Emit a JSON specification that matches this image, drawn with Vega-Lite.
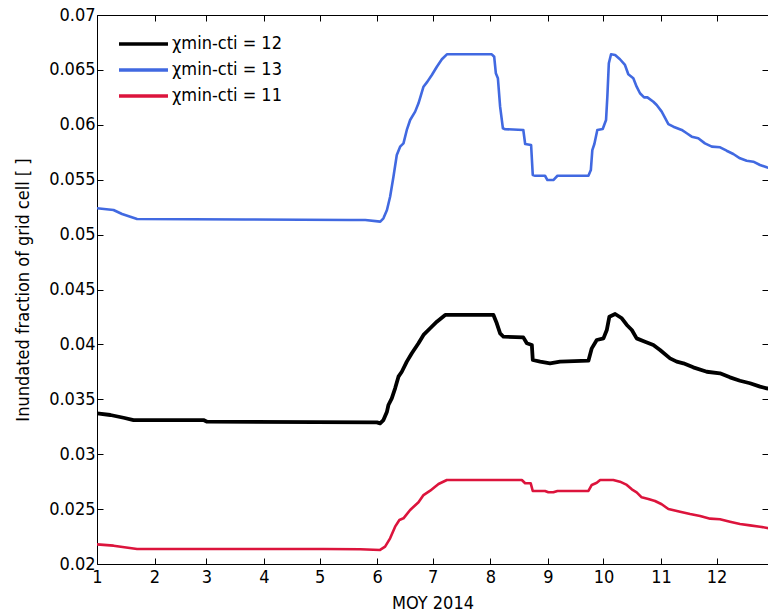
{
  "$schema": "https://vega.github.io/schema/vega-lite/v6.json",
  "autosize": "none",
  "width": 671,
  "height": 549,
  "padding": {"left": 97, "top": 15, "right": 0, "bottom": 51},
  "background": "white",
  "config": {
    "view": {"stroke": null},
    "font": "DejaVu Sans Condensed, Liberation Sans, sans-serif",
    "axis": {"grid": false, "domainColor": "black", "tickColor": "black", "labelColor": "black", "titleColor": "black", "labelFont": "DejaVu Sans Condensed, Liberation Sans, sans-serif", "titleFont": "DejaVu Sans Condensed, Liberation Sans, sans-serif", "labelFontSize": 18, "titleFontSize": 18, "titleFontWeight": "normal", "tickSize": -6, "domainWidth": 1, "tickWidth": 1}
  },
  "datasets": {
    "series": [
      {"s": "13", "d": 0, "v": 0.0524},
      {"s": "13", "d": 8.9, "v": 0.05224},
      {"s": "13", "d": 13.5, "v": 0.05188},
      {"s": "13", "d": 21.6, "v": 0.05142},
      {"s": "13", "d": 80, "v": 0.05138},
      {"s": "13", "d": 136.5, "v": 0.05133},
      {"s": "13", "d": 144.6, "v": 0.05133},
      {"s": "13", "d": 152.7, "v": 0.05118},
      {"s": "13", "d": 154.4, "v": 0.05148},
      {"s": "13", "d": 156.3, "v": 0.05224},
      {"s": "13", "d": 158.0, "v": 0.05345},
      {"s": "13", "d": 159.8, "v": 0.05527},
      {"s": "13", "d": 161.6, "v": 0.05725},
      {"s": "13", "d": 163.4, "v": 0.05801},
      {"s": "13", "d": 165.2, "v": 0.05831},
      {"s": "13", "d": 167.0, "v": 0.05953},
      {"s": "13", "d": 168.8, "v": 0.06044},
      {"s": "13", "d": 171.5, "v": 0.0612},
      {"s": "13", "d": 173.3, "v": 0.06196},
      {"s": "13", "d": 176.0, "v": 0.06347},
      {"s": "13", "d": 178.1, "v": 0.06393},
      {"s": "13", "d": 180.5, "v": 0.06454},
      {"s": "13", "d": 183.2, "v": 0.06529},
      {"s": "13", "d": 185.9, "v": 0.06597},
      {"s": "13", "d": 188.6, "v": 0.06642},
      {"s": "13", "d": 212.8, "v": 0.06642},
      {"s": "13", "d": 214.1, "v": 0.0662},
      {"s": "13", "d": 215.0, "v": 0.06469},
      {"s": "13", "d": 216.1, "v": 0.06424},
      {"s": "13", "d": 217.3, "v": 0.06165},
      {"s": "13", "d": 218.8, "v": 0.05968},
      {"s": "13", "d": 220.0, "v": 0.0596},
      {"s": "13", "d": 229.8, "v": 0.05953},
      {"s": "13", "d": 230.8, "v": 0.05825},
      {"s": "13", "d": 234.0, "v": 0.05816},
      {"s": "13", "d": 234.9, "v": 0.05543},
      {"s": "13", "d": 236.2, "v": 0.05536},
      {"s": "13", "d": 241.5, "v": 0.05536},
      {"s": "13", "d": 242.8, "v": 0.05497},
      {"s": "13", "d": 246.0, "v": 0.05497},
      {"s": "13", "d": 248.2, "v": 0.05536},
      {"s": "13", "d": 264.9, "v": 0.05536},
      {"s": "13", "d": 266.2, "v": 0.05588},
      {"s": "13", "d": 267.0, "v": 0.0577},
      {"s": "13", "d": 268.1, "v": 0.05825},
      {"s": "13", "d": 269.7, "v": 0.05953},
      {"s": "13", "d": 272.6, "v": 0.05962},
      {"s": "13", "d": 274.4, "v": 0.06044},
      {"s": "13", "d": 275.1, "v": 0.06256},
      {"s": "13", "d": 275.9, "v": 0.0656},
      {"s": "13", "d": 277.1, "v": 0.06642},
      {"s": "13", "d": 279.3, "v": 0.06636},
      {"s": "13", "d": 281.9, "v": 0.06597},
      {"s": "13", "d": 284.6, "v": 0.06545},
      {"s": "13", "d": 286.4, "v": 0.0646},
      {"s": "13", "d": 289.1, "v": 0.06424},
      {"s": "13", "d": 290.9, "v": 0.06347},
      {"s": "13", "d": 292.7, "v": 0.06287},
      {"s": "13", "d": 294.9, "v": 0.0625},
      {"s": "13", "d": 296.7, "v": 0.0625},
      {"s": "13", "d": 299.9, "v": 0.0621},
      {"s": "13", "d": 301.7, "v": 0.0618},
      {"s": "13", "d": 304.4, "v": 0.0612},
      {"s": "13", "d": 308.0, "v": 0.06007},
      {"s": "13", "d": 310.7, "v": 0.05983},
      {"s": "13", "d": 315.2, "v": 0.05953},
      {"s": "13", "d": 317.9, "v": 0.05923},
      {"s": "13", "d": 320.6, "v": 0.05892},
      {"s": "13", "d": 324.1, "v": 0.05877},
      {"s": "13", "d": 327.7, "v": 0.05831},
      {"s": "13", "d": 331.4, "v": 0.05801},
      {"s": "13", "d": 335.9, "v": 0.05795},
      {"s": "13", "d": 339.4, "v": 0.05764},
      {"s": "13", "d": 343.0, "v": 0.05734},
      {"s": "13", "d": 346.6, "v": 0.05695},
      {"s": "13", "d": 350.2, "v": 0.05673},
      {"s": "13", "d": 353.8, "v": 0.05664},
      {"s": "13", "d": 357.4, "v": 0.05634},
      {"s": "13", "d": 361.0, "v": 0.05613},
      {"s": "13", "d": 364.0, "v": 0.05598},
      {"s": "12", "d": 0, "v": 0.03372},
      {"s": "12", "d": 7.2, "v": 0.03357},
      {"s": "12", "d": 14.3, "v": 0.03332},
      {"s": "12", "d": 19.7, "v": 0.03311},
      {"s": "12", "d": 57.4, "v": 0.03311},
      {"s": "12", "d": 59.3, "v": 0.03296},
      {"s": "12", "d": 150.9, "v": 0.0329},
      {"s": "12", "d": 152.6, "v": 0.03281},
      {"s": "12", "d": 154.4, "v": 0.03311},
      {"s": "12", "d": 156.3, "v": 0.03387},
      {"s": "12", "d": 157.1, "v": 0.03448},
      {"s": "12", "d": 158.9, "v": 0.03509},
      {"s": "12", "d": 160.7, "v": 0.036},
      {"s": "12", "d": 162.5, "v": 0.03706},
      {"s": "12", "d": 164.3, "v": 0.03751},
      {"s": "12", "d": 167.0, "v": 0.03843},
      {"s": "12", "d": 169.7, "v": 0.03919},
      {"s": "12", "d": 173.3, "v": 0.0401},
      {"s": "12", "d": 176.0, "v": 0.04086},
      {"s": "12", "d": 179.6, "v": 0.04147},
      {"s": "12", "d": 183.2, "v": 0.04207},
      {"s": "12", "d": 187.7, "v": 0.04268},
      {"s": "12", "d": 213.7, "v": 0.04268},
      {"s": "12", "d": 215.5, "v": 0.04192},
      {"s": "12", "d": 217.3, "v": 0.04101},
      {"s": "12", "d": 219.1, "v": 0.0407},
      {"s": "12", "d": 229.8, "v": 0.04064},
      {"s": "12", "d": 231.7, "v": 0.0401},
      {"s": "12", "d": 234.4, "v": 0.03995},
      {"s": "12", "d": 234.9, "v": 0.03858},
      {"s": "12", "d": 238.9, "v": 0.03843},
      {"s": "12", "d": 244.2, "v": 0.03828},
      {"s": "12", "d": 249.6, "v": 0.03843},
      {"s": "12", "d": 264.9, "v": 0.03852},
      {"s": "12", "d": 266.7, "v": 0.03964},
      {"s": "12", "d": 269.4, "v": 0.0404},
      {"s": "12", "d": 273.0, "v": 0.04055},
      {"s": "12", "d": 274.8, "v": 0.04131},
      {"s": "12", "d": 276.2, "v": 0.04252},
      {"s": "12", "d": 279.3, "v": 0.04277},
      {"s": "12", "d": 282.9, "v": 0.04238},
      {"s": "12", "d": 285.6, "v": 0.04177},
      {"s": "12", "d": 288.3, "v": 0.04131},
      {"s": "12", "d": 290.9, "v": 0.04055},
      {"s": "12", "d": 295.4, "v": 0.04025},
      {"s": "12", "d": 299.9, "v": 0.03995},
      {"s": "12", "d": 303.5, "v": 0.03949},
      {"s": "12", "d": 308.9, "v": 0.03873},
      {"s": "12", "d": 312.5, "v": 0.03843},
      {"s": "12", "d": 316.1, "v": 0.03828},
      {"s": "12", "d": 321.4, "v": 0.03791},
      {"s": "12", "d": 328.7, "v": 0.03751},
      {"s": "12", "d": 335.8, "v": 0.03737},
      {"s": "12", "d": 341.2, "v": 0.037},
      {"s": "12", "d": 346.6, "v": 0.03669},
      {"s": "12", "d": 352.0, "v": 0.03646},
      {"s": "12", "d": 357.4, "v": 0.03615},
      {"s": "12", "d": 361.0, "v": 0.036},
      {"s": "12", "d": 364.0, "v": 0.03593},
      {"s": "11", "d": 0, "v": 0.02179},
      {"s": "11", "d": 8.9, "v": 0.02167},
      {"s": "11", "d": 21.6, "v": 0.02137},
      {"s": "11", "d": 122.1, "v": 0.02137},
      {"s": "11", "d": 141.9, "v": 0.02134},
      {"s": "11", "d": 152.6, "v": 0.02128},
      {"s": "11", "d": 155.3, "v": 0.02158},
      {"s": "11", "d": 158.0, "v": 0.02234},
      {"s": "11", "d": 160.7, "v": 0.0234},
      {"s": "11", "d": 163.0, "v": 0.02401},
      {"s": "11", "d": 165.2, "v": 0.02416},
      {"s": "11", "d": 168.8, "v": 0.02492},
      {"s": "11", "d": 173.3, "v": 0.02562},
      {"s": "11", "d": 176.0, "v": 0.02628},
      {"s": "11", "d": 179.6, "v": 0.02668},
      {"s": "11", "d": 184.1, "v": 0.02729},
      {"s": "11", "d": 188.6, "v": 0.02765},
      {"s": "11", "d": 229.0, "v": 0.02765},
      {"s": "11", "d": 230.8, "v": 0.02735},
      {"s": "11", "d": 233.8, "v": 0.02735},
      {"s": "11", "d": 234.9, "v": 0.02665},
      {"s": "11", "d": 241.5, "v": 0.02665},
      {"s": "11", "d": 243.3, "v": 0.02653},
      {"s": "11", "d": 246.0, "v": 0.02653},
      {"s": "11", "d": 248.2, "v": 0.02665},
      {"s": "11", "d": 264.9, "v": 0.02665},
      {"s": "11", "d": 266.7, "v": 0.0272},
      {"s": "11", "d": 269.4, "v": 0.0274},
      {"s": "11", "d": 271.2, "v": 0.02765},
      {"s": "11", "d": 278.3, "v": 0.02765},
      {"s": "11", "d": 281.9, "v": 0.0275},
      {"s": "11", "d": 285.6, "v": 0.0272},
      {"s": "11", "d": 288.3, "v": 0.0268},
      {"s": "11", "d": 290.9, "v": 0.02653},
      {"s": "11", "d": 293.6, "v": 0.02607},
      {"s": "11", "d": 297.2, "v": 0.02592},
      {"s": "11", "d": 300.8, "v": 0.02574},
      {"s": "11", "d": 304.4, "v": 0.02544},
      {"s": "11", "d": 308.0, "v": 0.02501},
      {"s": "11", "d": 314.3, "v": 0.02476},
      {"s": "11", "d": 319.7, "v": 0.02455},
      {"s": "11", "d": 325.1, "v": 0.02437},
      {"s": "11", "d": 330.5, "v": 0.02413},
      {"s": "11", "d": 335.8, "v": 0.02407},
      {"s": "11", "d": 341.2, "v": 0.02385},
      {"s": "11", "d": 346.6, "v": 0.02364},
      {"s": "11", "d": 352.0, "v": 0.02352},
      {"s": "11", "d": 357.4, "v": 0.0234},
      {"s": "11", "d": 361.3, "v": 0.02328},
      {"s": "11", "d": 364.0, "v": 0.02322}
    ]
  },
  "data": {"name": "series"},
  "resolve": {"axis": {"x": "independent", "y": "independent"}},
  "layer": [
    {
      "mark": {"type": "line", "clip": true, "strokeJoin": "round"},
      "encoding": {
        "x": {"field": "d", "type": "quantitative", "scale": {"domain": [0, 361.7], "nice": false, "zero": false},
          "axis": {"orient": "bottom", "title": "MOY 2014", "values": [0, 31, 59, 90, 120, 151, 181, 212, 243, 273, 304, 334], "labelExpr": "indexof([0, 31, 59, 90, 120, 151, 181, 212, 243, 273, 304, 334], datum.value) + 1", "labelPadding": 10, "titlePadding": 8, "labelFlush": false}},
        "y": {"field": "v", "type": "quantitative", "scale": {"domain": [0.02, 0.07], "nice": false, "zero": false},
          "axis": {"orient": "left", "title": "Inundated fraction of grid cell  [ ]", "values": [0.02, 0.025, 0.03, 0.035, 0.04, 0.045, 0.05, 0.055, 0.06, 0.065, 0.07], "format": ".3~f", "labelPadding": 8, "titlePadding": 16, "labelFlush": false}},
        "color": {"field": "s", "type": "nominal",
          "scale": {"domain": ["12", "13", "11"], "range": ["#000000", "#4169e1", "#dc143c"]},
          "legend": {"title": null, "orient": "none", "legendX": 20, "legendY": 16, "symbolType": "stroke", "symbolSize": 2400, "symbolStrokeWidth": 3.5, "labelFontSize": 18, "labelFont": "DejaVu Sans Condensed, Liberation Sans, sans-serif", "labelColor": "black", "rowPadding": 0, "clipHeight": 26, "labelOffset": 2, "labelExpr": "'χmin-cti = ' + datum.label"}},
        "strokeWidth": {"condition": {"test": "datum.s === '12'", "value": 3.8}, "value": 2.6}
      }
    },
    {
      "mark": {"type": "point", "opacity": 0},
      "encoding": {
        "x": {"field": "d", "type": "quantitative", "axis": {"orient": "top", "title": null, "labels": false, "values": [0, 31, 59, 90, 120, 151, 181, 212, 243, 273, 304, 334]}},
        "y": {"field": "v", "type": "quantitative", "axis": {"orient": "right", "title": null, "labels": false, "values": [0.02, 0.025, 0.03, 0.035, 0.04, 0.045, 0.05, 0.055, 0.06, 0.065, 0.07]}}
      }
    }
  ]
}
